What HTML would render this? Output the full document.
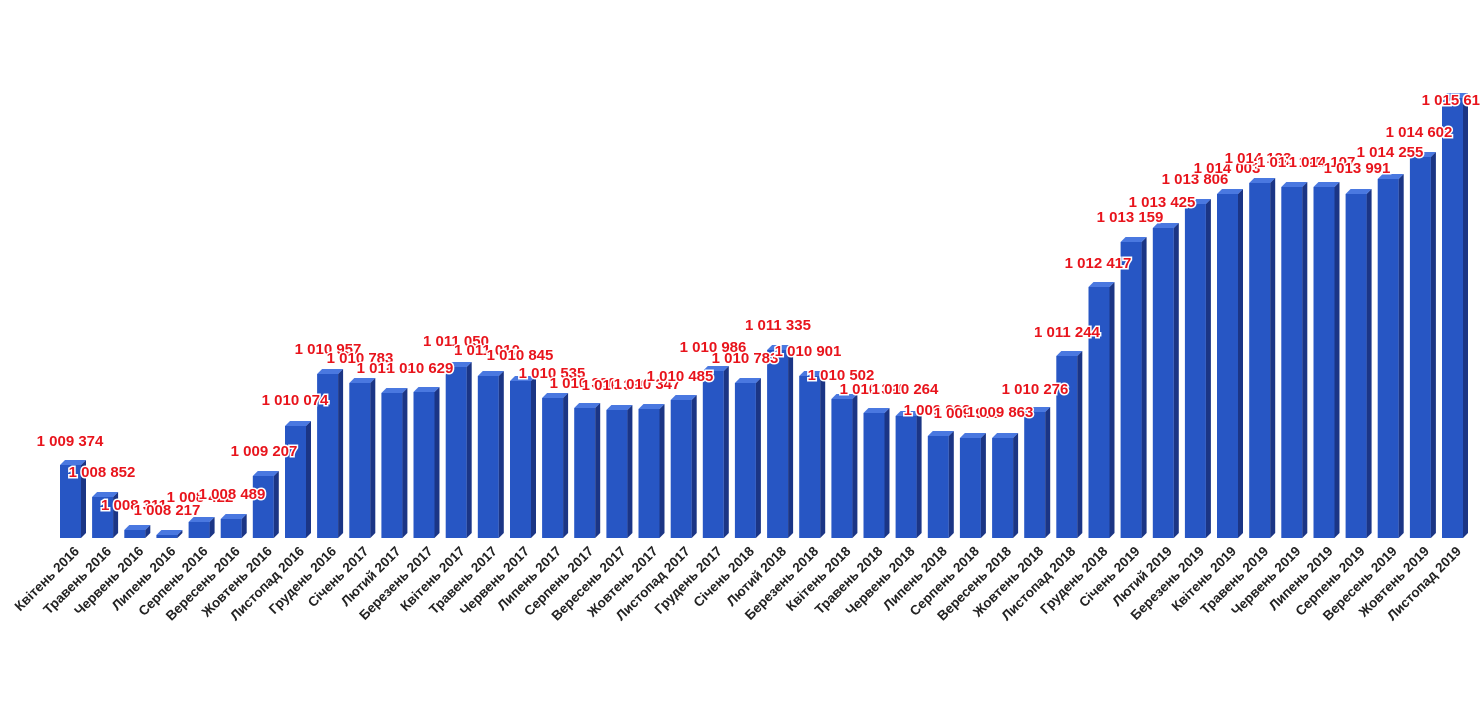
<!DOCTYPE html>
<html><head><meta charset="utf-8"><style>
html,body{margin:0;padding:0;background:#fff;}
svg{display:block;}
.f{fill:#2756c4}.s{fill:#1b3585}.t{fill:#4a78e0}
.v{font-family:"Liberation Sans",sans-serif;font-weight:bold;font-size:15px;fill:#e8141c;stroke:#fff;stroke-width:3px;paint-order:stroke;text-anchor:middle}
.a{font-family:"Liberation Sans",sans-serif;font-weight:bold;font-size:13.5px;fill:#222;text-anchor:end}
</style></head><body>
<svg width="1480" height="715" xmlns="http://www.w3.org/2000/svg">
<g>
<g transform="translate(60,0)"><rect class="f" x="0" y="465" width="21" height="73"/><polygon class="s" points="21,465 26,460 26,533 21,538"/><polygon class="t" points="0,465 5,460 26,460 21,465"/></g>
<g transform="translate(92.1,0)"><rect class="f" x="0" y="497" width="21" height="41"/><polygon class="s" points="21,497 26,492 26,533 21,538"/><polygon class="t" points="0,497 5,492 26,492 21,497"/></g>
<g transform="translate(124.3,0)"><rect class="f" x="0" y="530" width="21" height="8"/><polygon class="s" points="21,530 26,525 26,533 21,538"/><polygon class="t" points="0,530 5,525 26,525 21,530"/></g>
<g transform="translate(156.4,0)"><rect class="f" x="0" y="535" width="21" height="3"/><polygon class="s" points="21,535 26,530 26,533 21,538"/><polygon class="t" points="0,535 5,530 26,530 21,535"/></g>
<g transform="translate(188.6,0)"><rect class="f" x="0" y="522" width="21" height="16"/><polygon class="s" points="21,522 26,517 26,533 21,538"/><polygon class="t" points="0,522 5,517 26,517 21,522"/></g>
<g transform="translate(220.7,0)"><rect class="f" x="0" y="519" width="21" height="19"/><polygon class="s" points="21,519 26,514 26,533 21,538"/><polygon class="t" points="0,519 5,514 26,514 21,519"/></g>
<g transform="translate(252.8,0)"><rect class="f" x="0" y="476" width="21" height="62"/><polygon class="s" points="21,476 26,471 26,533 21,538"/><polygon class="t" points="0,476 5,471 26,471 21,476"/></g>
<g transform="translate(285,0)"><rect class="f" x="0" y="426" width="21" height="112"/><polygon class="s" points="21,426 26,421 26,533 21,538"/><polygon class="t" points="0,426 5,421 26,421 21,426"/></g>
<g transform="translate(317.1,0)"><rect class="f" x="0" y="374" width="21" height="164"/><polygon class="s" points="21,374 26,369 26,533 21,538"/><polygon class="t" points="0,374 5,369 26,369 21,374"/></g>
<g transform="translate(349.3,0)"><rect class="f" x="0" y="383" width="21" height="155"/><polygon class="s" points="21,383 26,378 26,533 21,538"/><polygon class="t" points="0,383 5,378 26,378 21,383"/></g>
<g transform="translate(381.4,0)"><rect class="f" x="0" y="393" width="21" height="145"/><polygon class="s" points="21,393 26,388 26,533 21,538"/><polygon class="t" points="0,393 5,388 26,388 21,393"/></g>
<g transform="translate(413.5,0)"><rect class="f" x="0" y="392" width="21" height="146"/><polygon class="s" points="21,392 26,387 26,533 21,538"/><polygon class="t" points="0,392 5,387 26,387 21,392"/></g>
<g transform="translate(445.7,0)"><rect class="f" x="0" y="367" width="21" height="171"/><polygon class="s" points="21,367 26,362 26,533 21,538"/><polygon class="t" points="0,367 5,362 26,362 21,367"/></g>
<g transform="translate(477.8,0)"><rect class="f" x="0" y="376" width="21" height="162"/><polygon class="s" points="21,376 26,371 26,533 21,538"/><polygon class="t" points="0,376 5,371 26,371 21,376"/></g>
<g transform="translate(510,0)"><rect class="f" x="0" y="381" width="21" height="157"/><polygon class="s" points="21,381 26,376 26,533 21,538"/><polygon class="t" points="0,381 5,376 26,376 21,381"/></g>
<g transform="translate(542.1,0)"><rect class="f" x="0" y="398" width="21" height="140"/><polygon class="s" points="21,398 26,393 26,533 21,538"/><polygon class="t" points="0,398 5,393 26,393 21,398"/></g>
<g transform="translate(574.2,0)"><rect class="f" x="0" y="408" width="21" height="130"/><polygon class="s" points="21,408 26,403 26,533 21,538"/><polygon class="t" points="0,408 5,403 26,403 21,408"/></g>
<g transform="translate(606.4,0)"><rect class="f" x="0" y="410" width="21" height="128"/><polygon class="s" points="21,410 26,405 26,533 21,538"/><polygon class="t" points="0,410 5,405 26,405 21,410"/></g>
<g transform="translate(638.5,0)"><rect class="f" x="0" y="409" width="21" height="129"/><polygon class="s" points="21,409 26,404 26,533 21,538"/><polygon class="t" points="0,409 5,404 26,404 21,409"/></g>
<g transform="translate(670.7,0)"><rect class="f" x="0" y="400" width="21" height="138"/><polygon class="s" points="21,400 26,395 26,533 21,538"/><polygon class="t" points="0,400 5,395 26,395 21,400"/></g>
<g transform="translate(702.8,0)"><rect class="f" x="0" y="371" width="21" height="167"/><polygon class="s" points="21,371 26,366 26,533 21,538"/><polygon class="t" points="0,371 5,366 26,366 21,371"/></g>
<g transform="translate(734.9,0)"><rect class="f" x="0" y="383" width="21" height="155"/><polygon class="s" points="21,383 26,378 26,533 21,538"/><polygon class="t" points="0,383 5,378 26,378 21,383"/></g>
<g transform="translate(767.1,0)"><rect class="f" x="0" y="350" width="21" height="188"/><polygon class="s" points="21,350 26,345 26,533 21,538"/><polygon class="t" points="0,350 5,345 26,345 21,350"/></g>
<g transform="translate(799.2,0)"><rect class="f" x="0" y="376" width="21" height="162"/><polygon class="s" points="21,376 26,371 26,533 21,538"/><polygon class="t" points="0,376 5,371 26,371 21,376"/></g>
<g transform="translate(831.4,0)"><rect class="f" x="0" y="399" width="21" height="139"/><polygon class="s" points="21,399 26,394 26,533 21,538"/><polygon class="t" points="0,399 5,394 26,394 21,399"/></g>
<g transform="translate(863.5,0)"><rect class="f" x="0" y="413" width="21" height="125"/><polygon class="s" points="21,413 26,408 26,533 21,538"/><polygon class="t" points="0,413 5,408 26,408 21,413"/></g>
<g transform="translate(895.6,0)"><rect class="f" x="0" y="416" width="21" height="122"/><polygon class="s" points="21,416 26,411 26,533 21,538"/><polygon class="t" points="0,416 5,411 26,411 21,416"/></g>
<g transform="translate(927.8,0)"><rect class="f" x="0" y="436" width="21" height="102"/><polygon class="s" points="21,436 26,431 26,533 21,538"/><polygon class="t" points="0,436 5,431 26,431 21,436"/></g>
<g transform="translate(959.9,0)"><rect class="f" x="0" y="438" width="21" height="100"/><polygon class="s" points="21,438 26,433 26,533 21,538"/><polygon class="t" points="0,438 5,433 26,433 21,438"/></g>
<g transform="translate(992.1,0)"><rect class="f" x="0" y="438" width="21" height="100"/><polygon class="s" points="21,438 26,433 26,533 21,538"/><polygon class="t" points="0,438 5,433 26,433 21,438"/></g>
<g transform="translate(1024.2,0)"><rect class="f" x="0" y="412" width="21" height="126"/><polygon class="s" points="21,412 26,407 26,533 21,538"/><polygon class="t" points="0,412 5,407 26,407 21,412"/></g>
<g transform="translate(1056.3,0)"><rect class="f" x="0" y="356" width="21" height="182"/><polygon class="s" points="21,356 26,351 26,533 21,538"/><polygon class="t" points="0,356 5,351 26,351 21,356"/></g>
<g transform="translate(1088.5,0)"><rect class="f" x="0" y="287" width="21" height="251"/><polygon class="s" points="21,287 26,282 26,533 21,538"/><polygon class="t" points="0,287 5,282 26,282 21,287"/></g>
<g transform="translate(1120.6,0)"><rect class="f" x="0" y="242" width="21" height="296"/><polygon class="s" points="21,242 26,237 26,533 21,538"/><polygon class="t" points="0,242 5,237 26,237 21,242"/></g>
<g transform="translate(1152.8,0)"><rect class="f" x="0" y="228" width="21" height="310"/><polygon class="s" points="21,228 26,223 26,533 21,538"/><polygon class="t" points="0,228 5,223 26,223 21,228"/></g>
<g transform="translate(1184.9,0)"><rect class="f" x="0" y="204" width="21" height="334"/><polygon class="s" points="21,204 26,199 26,533 21,538"/><polygon class="t" points="0,204 5,199 26,199 21,204"/></g>
<g transform="translate(1217,0)"><rect class="f" x="0" y="194" width="21" height="344"/><polygon class="s" points="21,194 26,189 26,533 21,538"/><polygon class="t" points="0,194 5,189 26,189 21,194"/></g>
<g transform="translate(1249.2,0)"><rect class="f" x="0" y="183" width="21" height="355"/><polygon class="s" points="21,183 26,178 26,533 21,538"/><polygon class="t" points="0,183 5,178 26,178 21,183"/></g>
<g transform="translate(1281.3,0)"><rect class="f" x="0" y="187" width="21" height="351"/><polygon class="s" points="21,187 26,182 26,533 21,538"/><polygon class="t" points="0,187 5,182 26,182 21,187"/></g>
<g transform="translate(1313.5,0)"><rect class="f" x="0" y="187" width="21" height="351"/><polygon class="s" points="21,187 26,182 26,533 21,538"/><polygon class="t" points="0,187 5,182 26,182 21,187"/></g>
<g transform="translate(1345.6,0)"><rect class="f" x="0" y="194" width="21" height="344"/><polygon class="s" points="21,194 26,189 26,533 21,538"/><polygon class="t" points="0,194 5,189 26,189 21,194"/></g>
<g transform="translate(1377.7,0)"><rect class="f" x="0" y="179" width="21" height="359"/><polygon class="s" points="21,179 26,174 26,533 21,538"/><polygon class="t" points="0,179 5,174 26,174 21,179"/></g>
<g transform="translate(1409.9,0)"><rect class="f" x="0" y="157" width="21" height="381"/><polygon class="s" points="21,157 26,152 26,533 21,538"/><polygon class="t" points="0,157 5,152 26,152 21,157"/></g>
<g transform="translate(1442,0)"><rect class="f" x="0" y="98" width="21" height="440"/><polygon class="s" points="21,98 26,93 26,533 21,538"/><polygon class="t" points="0,98 5,93 26,93 21,98"/></g>
</g>
<g>
<text class="v" x="70" y="446">1 009 374</text>
<text class="v" x="102" y="477">1 008 852</text>
<text class="v" x="134" y="510">1 008 311</text>
<text class="v" x="167" y="515">1 008 217</text>
<text class="v" x="200" y="502">1 008 422</text>
<text class="v" x="232" y="499">1 008 489</text>
<text class="v" x="264" y="456">1 009 207</text>
<text class="v" x="295" y="405">1 010 074</text>
<text class="v" x="328" y="354">1 010 957</text>
<text class="v" x="360" y="363">1 010 783</text>
<text class="v" x="390" y="373">1 010 620</text>
<text class="v" x="420" y="373">1 010 629</text>
<text class="v" x="456" y="346">1 011 050</text>
<text class="v" x="487" y="355">1 011 010</text>
<text class="v" x="520" y="360">1 010 845</text>
<text class="v" x="552" y="378">1 010 535</text>
<text class="v" x="583" y="388">1 010 380</text>
<text class="v" x="615" y="390">1 010 330</text>
<text class="v" x="647" y="389">1 010 347</text>
<text class="v" x="680" y="381">1 010 485</text>
<text class="v" x="713" y="352">1 010 986</text>
<text class="v" x="745" y="363">1 010 783</text>
<text class="v" x="778" y="330">1 011 335</text>
<text class="v" x="808" y="356">1 010 901</text>
<text class="v" x="841" y="380">1 010 502</text>
<text class="v" x="873" y="394">1 010 310</text>
<text class="v" x="905" y="394">1 010 264</text>
<text class="v" x="937" y="415">1 009 903</text>
<text class="v" x="967" y="418">1 009 901</text>
<text class="v" x="1000" y="417">1 009 863</text>
<text class="v" x="1035" y="394">1 010 276</text>
<text class="v" x="1067" y="337">1 011 244</text>
<text class="v" x="1098" y="268">1 012 417</text>
<text class="v" x="1130" y="222">1 013 159</text>
<text class="v" x="1162" y="207">1 013 425</text>
<text class="v" x="1195" y="184">1 013 806</text>
<text class="v" x="1227" y="173">1 014 003</text>
<text class="v" x="1258" y="163">1 014 133</text>
<text class="v" x="1290" y="167">1 014 110</text>
<text class="v" x="1322" y="167">1 014 107</text>
<text class="v" x="1357" y="173">1 013 991</text>
<text class="v" x="1390" y="157">1 014 255</text>
<text class="v" x="1419" y="137">1 014 602</text>
<text class="v" x="1455" y="105">1 015 617</text>
</g>
<g>
<text class="a" transform="translate(80,552) rotate(-45)">Квітень 2016</text>
<text class="a" transform="translate(112.1,552) rotate(-45)">Травень 2016</text>
<text class="a" transform="translate(144.3,552) rotate(-45)">Червень 2016</text>
<text class="a" transform="translate(176.4,552) rotate(-45)">Липень 2016</text>
<text class="a" transform="translate(208.6,552) rotate(-45)">Серпень 2016</text>
<text class="a" transform="translate(240.7,552) rotate(-45)">Вересень 2016</text>
<text class="a" transform="translate(272.8,552) rotate(-45)">Жовтень 2016</text>
<text class="a" transform="translate(305,552) rotate(-45)">Листопад 2016</text>
<text class="a" transform="translate(337.1,552) rotate(-45)">Грудень 2016</text>
<text class="a" transform="translate(369.3,552) rotate(-45)">Січень 2017</text>
<text class="a" transform="translate(401.4,552) rotate(-45)">Лютий 2017</text>
<text class="a" transform="translate(433.5,552) rotate(-45)">Березень 2017</text>
<text class="a" transform="translate(465.7,552) rotate(-45)">Квітень 2017</text>
<text class="a" transform="translate(497.8,552) rotate(-45)">Травень 2017</text>
<text class="a" transform="translate(530,552) rotate(-45)">Червень 2017</text>
<text class="a" transform="translate(562.1,552) rotate(-45)">Липень 2017</text>
<text class="a" transform="translate(594.2,552) rotate(-45)">Серпень 2017</text>
<text class="a" transform="translate(626.4,552) rotate(-45)">Вересень 2017</text>
<text class="a" transform="translate(658.5,552) rotate(-45)">Жовтень 2017</text>
<text class="a" transform="translate(690.7,552) rotate(-45)">Листопад 2017</text>
<text class="a" transform="translate(722.8,552) rotate(-45)">Грудень 2017</text>
<text class="a" transform="translate(754.9,552) rotate(-45)">Січень 2018</text>
<text class="a" transform="translate(787.1,552) rotate(-45)">Лютий 2018</text>
<text class="a" transform="translate(819.2,552) rotate(-45)">Березень 2018</text>
<text class="a" transform="translate(851.4,552) rotate(-45)">Квітень 2018</text>
<text class="a" transform="translate(883.5,552) rotate(-45)">Травень 2018</text>
<text class="a" transform="translate(915.6,552) rotate(-45)">Червень 2018</text>
<text class="a" transform="translate(947.8,552) rotate(-45)">Липень 2018</text>
<text class="a" transform="translate(979.9,552) rotate(-45)">Серпень 2018</text>
<text class="a" transform="translate(1012.1,552) rotate(-45)">Вересень 2018</text>
<text class="a" transform="translate(1044.2,552) rotate(-45)">Жовтень 2018</text>
<text class="a" transform="translate(1076.3,552) rotate(-45)">Листопад 2018</text>
<text class="a" transform="translate(1108.5,552) rotate(-45)">Грудень 2018</text>
<text class="a" transform="translate(1140.6,552) rotate(-45)">Січень 2019</text>
<text class="a" transform="translate(1172.8,552) rotate(-45)">Лютий 2019</text>
<text class="a" transform="translate(1204.9,552) rotate(-45)">Березень 2019</text>
<text class="a" transform="translate(1237,552) rotate(-45)">Квітень 2019</text>
<text class="a" transform="translate(1269.2,552) rotate(-45)">Травень 2019</text>
<text class="a" transform="translate(1301.3,552) rotate(-45)">Червень 2019</text>
<text class="a" transform="translate(1333.5,552) rotate(-45)">Липень 2019</text>
<text class="a" transform="translate(1365.6,552) rotate(-45)">Серпень 2019</text>
<text class="a" transform="translate(1397.7,552) rotate(-45)">Вересень 2019</text>
<text class="a" transform="translate(1429.9,552) rotate(-45)">Жовтень 2019</text>
<text class="a" transform="translate(1462,552) rotate(-45)">Листопад 2019</text>
</g>
</svg>
</body></html>
